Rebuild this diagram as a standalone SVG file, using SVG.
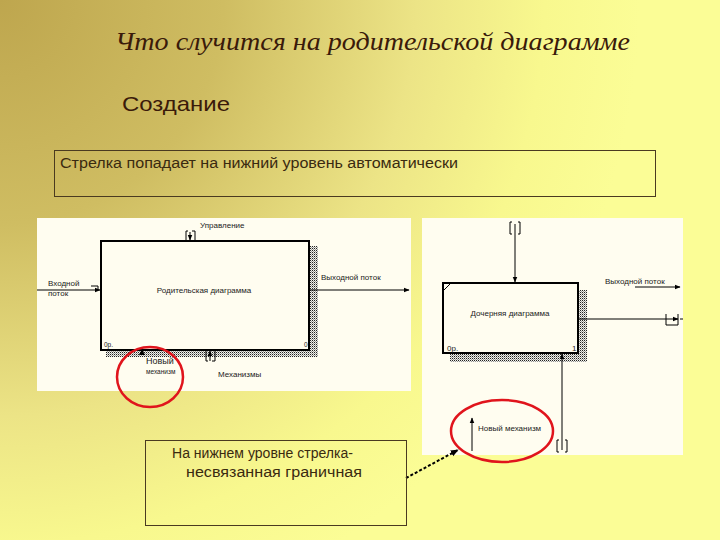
<svg xmlns="http://www.w3.org/2000/svg" width="720" height="540" viewBox="0 0 720 540">
<defs>
<radialGradient id="bg" gradientUnits="userSpaceOnUse" cx="0" cy="0" r="640">
<stop offset="0" stop-color="#bea64e"/>
<stop offset="0.35" stop-color="#cfbd62"/>
<stop offset="0.65" stop-color="#ece486"/>
<stop offset="0.85" stop-color="#f8f88e"/>
<stop offset="1" stop-color="#fbfd96"/>
</radialGradient>
<pattern id="hatch" width="2" height="2" patternUnits="userSpaceOnUse">
<rect width="2" height="2" fill="#f0f0e8"/>
<rect width="1" height="1" fill="#222"/>
<rect x="1" y="1" width="1" height="1" fill="#999"/>
</pattern>
<marker id="ah" viewBox="0 0 10 10" refX="9" refY="5" markerWidth="6" markerHeight="6" orient="auto" markerUnits="userSpaceOnUse">
<path d="M0,1 L10,5 L0,9 Z" fill="#000"/>
</marker>
<marker id="ah2" viewBox="0 0 10 10" refX="9" refY="5" markerWidth="8" markerHeight="8" orient="auto" markerUnits="userSpaceOnUse">
<path d="M0,1 L10,5 L0,9 Z" fill="#000"/>
</marker>
<style>
.sm{font-family:"Liberation Sans",Arial,sans-serif;font-size:8px;fill:#222}
.xs{font-family:"Liberation Sans",Arial,sans-serif;font-size:6.5px;fill:#222}
.panel{fill:#fffdf0;stroke:none}
.act{fill:none;stroke:#000;stroke-width:2}
.ln{stroke:#000;stroke-width:1;fill:none}
.br{stroke:#000;stroke-width:1;fill:none}
.red{fill:none;stroke:#e0141c;stroke-width:2.5}
.note{font-family:"Liberation Sans",Arial,sans-serif;font-size:14px;fill:#3a2a10}
</style>
</defs>
<rect width="720" height="540" fill="url(#bg)"/>

<g id="title">
<text x="115" y="50" font-family="'Liberation Serif','DejaVu Serif',serif" font-style="italic" font-size="26" fill="#3a1a0a" textLength="515" lengthAdjust="spacingAndGlyphs">Что случится на родительской диаграмме</text>
<text x="122" y="111" font-family="'Liberation Sans',Arial,sans-serif" font-size="21" fill="#3a1a0a" textLength="108" lengthAdjust="spacingAndGlyphs">Создание</text>
</g>

<g id="note-top">
<rect x="54.5" y="150.5" width="601" height="46" fill="none" stroke="#4a3a20" stroke-width="1"/>
<text x="60" y="168" class="note" textLength="398" lengthAdjust="spacingAndGlyphs">Стрелка попадает на нижний уровень автоматически</text>
</g>

<g id="parent-panel">
<rect x="37" y="218" width="374" height="173" class="panel"/>
</g>
<g id="parent-activity">
<rect x="310" y="246" width="8" height="111" fill="url(#hatch)"/>
<rect x="106" y="351" width="212" height="6" fill="url(#hatch)"/>
<rect x="101" y="241" width="208" height="109" class="act"/>
<text x="204" y="293" class="sm" text-anchor="middle">Родительская диаграмма</text>
<text x="104" y="347" class="xs">0р.</text>
<text x="304" y="347" class="xs">0</text>
</g>
<g id="parent-labels">
<text x="48" y="286" class="sm">Входной</text>
<text x="48" y="296" class="sm">поток</text>
<text x="200" y="228" class="sm">Управление</text>
<text x="321" y="280" class="sm">Выходной поток</text>
<text x="218" y="377" class="sm">Механизмы</text>
<text x="146" y="364" font-family="'Liberation Sans',Arial,sans-serif" font-size="9" fill="#222">Новый</text>
<text x="146" y="374" class="xs">механизм</text>
</g>

<g id="child-panel">
<rect x="422" y="218" width="261" height="237" class="panel"/>
</g>
<g id="child-activity">
<rect x="579" y="290" width="8" height="72" fill="url(#hatch)"/>
<rect x="450" y="354" width="137" height="8" fill="url(#hatch)"/>
<rect x="443" y="283" width="135" height="70" class="act"/>
<line x1="443" y1="291" x2="451" y2="283" class="ln"/>
<text x="510" y="316" class="sm" text-anchor="middle">Дочерняя диаграмма</text>
<text x="447" y="351" class="sm">0р.</text>
<text x="572" y="351" class="sm">1</text>
</g>
<g id="child-labels">
<text x="605" y="284" class="sm">Выходной поток</text>
<text x="478" y="431" class="sm">Новый механизм</text>
</g>

<g id="connectors">
<line x1="37" y1="290" x2="100" y2="290" class="ln" marker-end="url(#ah)"/>
<path d="M91,286 H98 V289" class="br"/>
<line x1="190" y1="232" x2="190" y2="240" class="ln" marker-end="url(#ah)"/>
<path d="M188,231 H186 V241 M192,231 H195 V241" class="br"/>
<line x1="309" y1="290" x2="409" y2="290" class="ln" marker-end="url(#ah)"/>
<line x1="210" y1="361" x2="210" y2="351" class="ln" marker-end="url(#ah)"/>
<path d="M206,351 V361 H208 M215,351 V361 H212" class="br"/>
<path d="M139,355 L142,349 L145,355 Z" fill="#000"/>

<line x1="515" y1="224" x2="515" y2="282" class="ln" marker-end="url(#ah)"/>
<path d="M512,222 H510 V234 H512 M518,222 H520 V234 H518" class="br"/>
<line x1="635" y1="287" x2="680" y2="287" class="ln" marker-end="url(#ah)"/>
<line x1="579" y1="319" x2="678" y2="319" class="ln" marker-end="url(#ah)"/>
<path d="M666,314 V325 H678 V314" class="br"/>
<line x1="680" y1="319" x2="683" y2="319" class="ln"/>
<line x1="562" y1="450" x2="562" y2="354" class="ln" marker-end="url(#ah)"/>
<path d="M559,440 H557 V452 H559 M565,440 H567 V452 H565" class="br"/>
<line x1="472" y1="451" x2="472" y2="418" class="ln" marker-end="url(#ah)"/>
<line x1="406" y1="478" x2="458" y2="450" stroke="#000" stroke-width="2" stroke-dasharray="3,2" marker-end="url(#ah2)"/>
</g>

<g id="highlights">
<ellipse cx="150" cy="377" rx="33" ry="30" class="red"/>
<ellipse cx="502" cy="431" rx="51" ry="31" class="red"/>
</g>

<g id="note-bottom">
<rect x="145.5" y="440.5" width="261" height="85" fill="none" stroke="#4a3a20" stroke-width="1"/>
<text x="172" y="458" class="note" textLength="181" lengthAdjust="spacingAndGlyphs">На нижнем уровне стрелка-</text>
<text x="186" y="477" class="note" textLength="176" lengthAdjust="spacingAndGlyphs">несвязанная граничная</text>
</g>
</svg>
